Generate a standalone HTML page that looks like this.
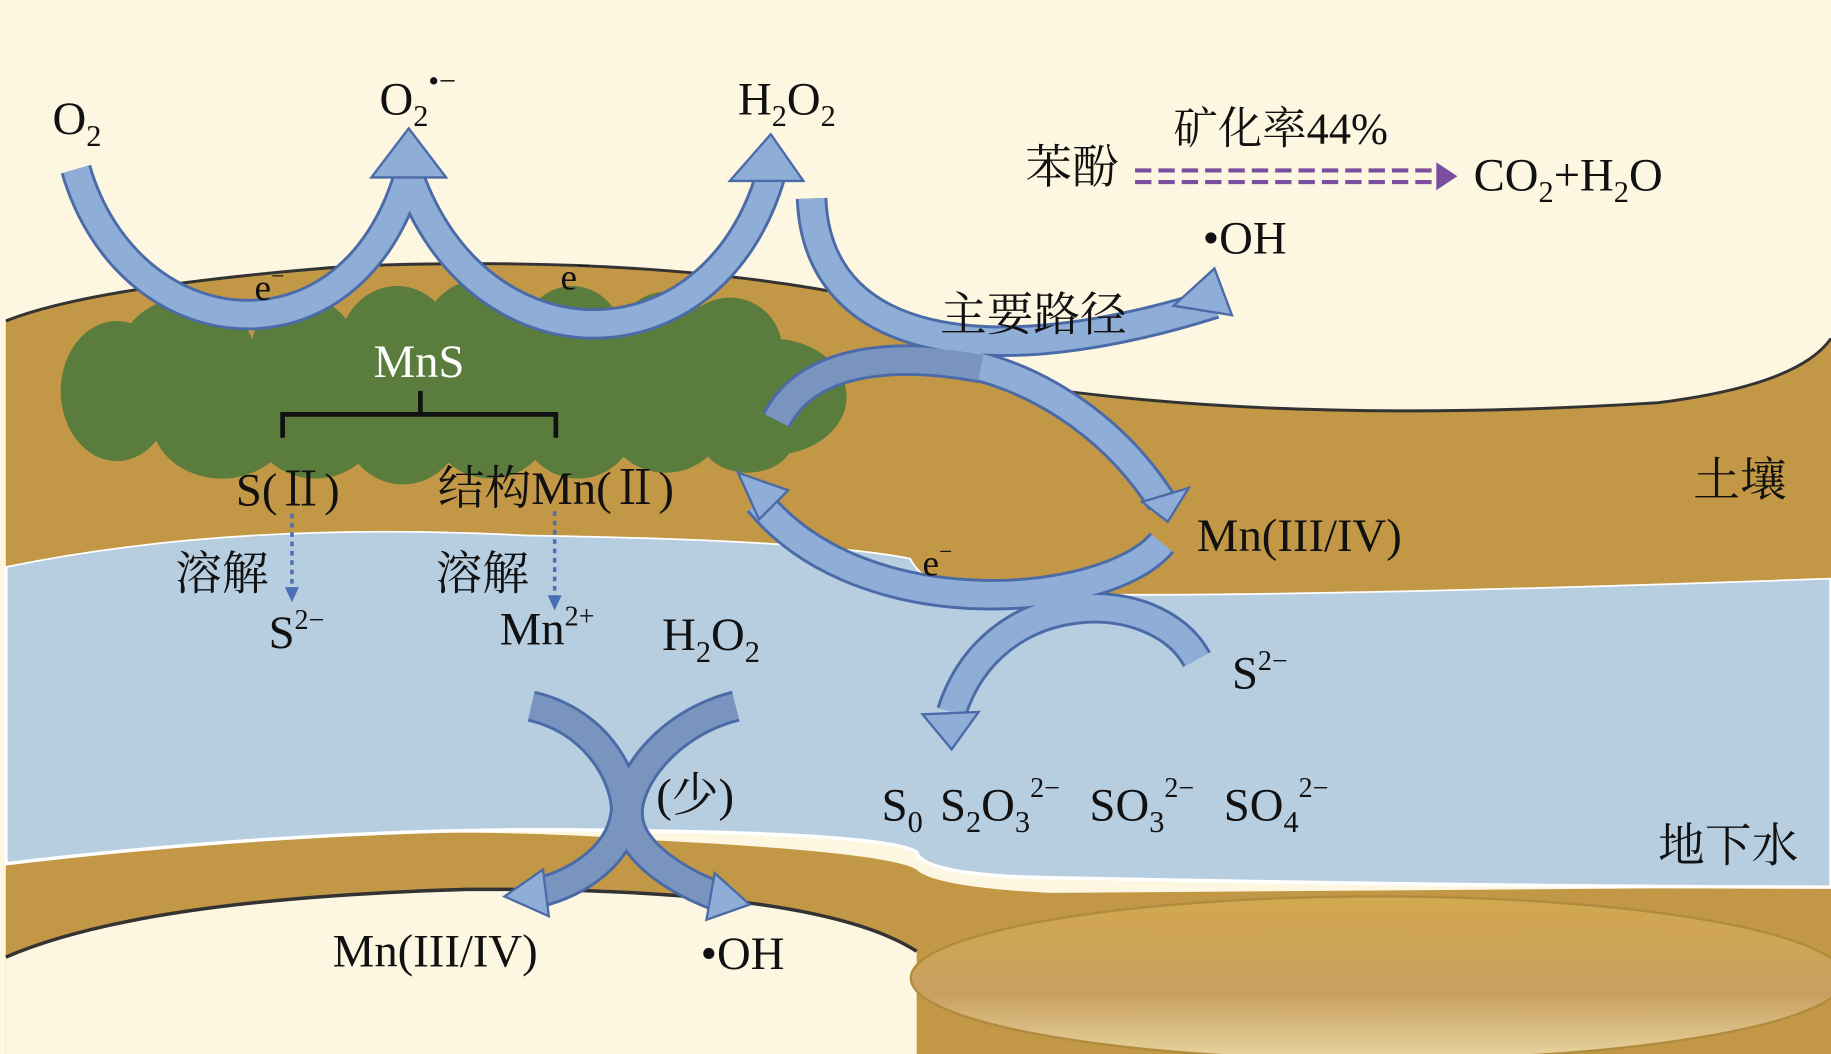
<!DOCTYPE html>
<html><head><meta charset="utf-8"><style>
html,body{margin:0;padding:0;background:#fdf6e0;}
svg{display:block}
text{font-family:"Liberation Serif","Noto Serif CJK SC",serif;fill:#111;}
</style></head><body>
<svg width="1831" height="1054" viewBox="0 0 1568 903" preserveAspectRatio="none" xmlns="http://www.w3.org/2000/svg">
<defs>
<linearGradient id="lb" x1="0" y1="0" x2="0" y2="1"><stop offset="0" stop-color="#d2a84f"/><stop offset="0.6" stop-color="#c9a060"/><stop offset="1" stop-color="#e8d6a0"/></linearGradient>
</defs>
<rect width="1568" height="903" fill="#fdf6e0"/>
<!-- lower brown layer -->
<path d="M5,740 Q300,700 560,720 Q760,730 785,745 Q800,760 900,765 L1568,760 L1568,903 L5,903 Z" fill="#c29745"/>
<!-- lower left cream ellipse -->
<path d="M5,820 Q120,770 400,762 Q700,760 785,815 L785,903 L5,903 Z" fill="#fdf6e0"/>
<path d="M5,820 Q120,770 400,762 Q700,760 785,815" fill="none" stroke="#333" stroke-width="3"/>
<!-- lower right ellipse -->
<ellipse cx="1180" cy="838" rx="400" ry="70" fill="url(#lb)" stroke="#b08b3e" stroke-width="2"/>
<!-- water -->
<path d="M5,485 Q200,445 450,458 Q700,462 780,478 Q790,500 830,506 Q1000,515 1568,495 L1568,760 Q1300,760 900,752 Q790,750 785,730 Q760,715 560,712 Q300,705 5,740 Z" fill="#b7cde0" stroke="#fff" stroke-width="3"/>
<!-- upper brown soil -->
<path d="M5,275 Q80,245 300,228 Q560,218 740,255 Q790,270 785,290 Q790,310 860,330 Q1100,360 1568,290 L1568,495 Q1000,515 830,506 Q790,500 780,478 Q700,462 450,458 Q200,445 5,485 Z" fill="#c29745"/>
<path d="M5,275 Q80,245 300,228 Q560,218 740,255 Q790,270 785,290" fill="none" stroke="#333" stroke-width="2.5"/>
<!-- top-right cream bowl -->
<path d="M785,290 Q790,310 860,330 Q1100,365 1420,345 Q1540,330 1568,290 L1568,0 L785,0Z" fill="#fdf6e0"/>
<path d="M785,290 Q800,310 860,328 Q1100,365 1420,345 Q1540,330 1568,290" fill="none" stroke="#333" stroke-width="2.5"/>
<!-- green MnS cluster -->
<g fill="#5a7d3e">
<ellipse cx="100" cy="335" rx="48" ry="60"/>
<ellipse cx="160" cy="310" rx="60" ry="55"/>
<ellipse cx="190" cy="360" rx="60" ry="50"/>
<ellipse cx="260" cy="300" rx="45" ry="45"/>
<ellipse cx="270" cy="360" rx="55" ry="50"/>
<ellipse cx="340" cy="300" rx="50" ry="55"/>
<ellipse cx="345" cy="365" rx="50" ry="50"/>
<ellipse cx="410" cy="295" rx="50" ry="55"/>
<ellipse cx="420" cy="365" rx="50" ry="45"/>
<ellipse cx="490" cy="295" rx="45" ry="50"/>
<ellipse cx="495" cy="360" rx="50" ry="50"/>
<ellipse cx="570" cy="300" rx="45" ry="50"/>
<ellipse cx="570" cy="360" rx="50" ry="45"/>
<ellipse cx="625" cy="300" rx="45" ry="45"/>
<ellipse cx="660" cy="340" rx="65" ry="50"/>
<ellipse cx="640" cy="375" rx="40" ry="30"/>
<rect x="90" y="300" width="580" height="70"/>
</g>
<!-- bracket -->
<path d="M242,375 V355 H476 V375 M360,355 V335" fill="none" stroke="#111" stroke-width="4"/>
<!-- arrows -->
<g fill="none" stroke-linecap="butt">
<g stroke="#4a6aa8" stroke-width="27">
<path d="M65,145 C110,300 300,320 350,150"/>
<path d="M350,150 C410,320 610,320 660,150"/>
<path d="M695,170 C700,300 850,320 1040,260"/>
<path d="M820,310 C880,320 950,360 995,430"/>
<path d="M840,315 C760,300 690,310 665,360"/>
<path d="M995,465 C950,520 740,540 650,430"/>
<path d="M1025,565 C990,500 850,500 815,610"/>
<path d="M455,605 C520,620 540,680 535,700 C530,730 500,755 460,765"/>
<path d="M630,605 C570,620 535,670 538,700 C540,730 580,755 615,768"/>
</g>
<g stroke="#8eaed8" stroke-width="22">
<path d="M65,145 C110,300 300,320 350,150"/>
<path d="M350,150 C410,320 610,320 660,150"/>
<path d="M695,170 C700,300 850,320 1040,260"/>
<path d="M820,310 C880,320 950,360 995,430"/>
<path d="M995,465 C950,520 740,540 650,430"/>
<path d="M1025,565 C990,500 850,500 815,610"/>
</g>
<g stroke="#7a94c0" stroke-width="22">
<path d="M840,315 C760,300 690,310 665,360"/>
<path d="M455,605 C520,620 540,680 535,700 C530,730 500,755 460,765"/>
<path d="M630,605 C570,620 535,670 538,700 C540,730 580,755 615,768"/>
</g>
</g>
<g fill="#8eaed8" stroke="#4a6aa8" stroke-width="2">
<polygon points="350,110 382,152 318,152"/>
<polygon points="660,115 688,155 625,155"/>
<polygon points="1055,270 1040,230 1005,262"/>
<polygon points="1000,447 1018,418 978,430"/>
<polygon points="632,405 675,420 650,445"/>
<polygon points="815,642 790,612 838,610"/>
<polygon points="432,768 465,745 470,785"/>
<polygon points="642,775 612,748 605,788"/>
</g>
<!-- dotted arrows -->
<g stroke="#4a6fb5" stroke-width="3" stroke-dasharray="4,4">
<line x1="250" y1="440" x2="250" y2="505"/>
<line x1="475" y1="438" x2="475" y2="512"/>
</g>
<polygon points="244,503 256,503 250,516" fill="#4a6fb5"/>
<polygon points="469,510 481,510 475,523" fill="#4a6fb5"/>
<!-- purple dashed double arrow -->
<g stroke="#7a4fa0" stroke-width="3.5" stroke-dasharray="14,6">
<line x1="972" y1="146" x2="1232" y2="146"/>
<line x1="972" y1="156" x2="1232" y2="156"/>
</g>
<polygon points="1230,139 1248,151 1230,163" fill="#7a4fa0"/>
<!-- text -->
<g font-size="40">
<text x="45" y="115">O<tspan font-size="26" dy="10">2</tspan></text>
<text x="325" y="98">O<tspan font-size="26" dy="10">2</tspan><tspan font-size="26" dy="-30">•−</tspan></text>
<text x="632" y="98">H<tspan font-size="26" dy="10">2</tspan><tspan dy="-10">O</tspan><tspan font-size="26" dy="10">2</tspan></text>
<text x="1005" y="123" font-size="38">矿化率44%</text>
<text x="878" y="157" font-size="40">苯酚</text>
<text x="1262" y="163">CO<tspan font-size="26" dy="10">2</tspan><tspan dy="-10">+H</tspan><tspan font-size="26" dy="10">2</tspan><tspan dy="-10">O</tspan></text>
<text x="1030" y="217">•OH</text>
<text x="218" y="257" font-size="32">e<tspan font-size="20" dy="-14">−</tspan></text>
<text x="480" y="248" font-size="32">e<tspan font-size="20" dy="-14">−</tspan></text>
<text x="805" y="283">主要路径</text>
<text x="320" y="323" style="fill:#fff">MnS</text>
<text x="202" y="433">S(Ⅱ)</text>
<text x="375" y="432">结构Mn(Ⅱ)</text>
<text x="1450" y="425">土壤</text>
<text x="1025" y="472">Mn(III/IV)</text>
<text x="150" y="505">溶解</text>
<text x="373" y="505">溶解</text>
<text x="790" y="493" font-size="32">e<tspan font-size="20" dy="-14">−</tspan></text>
<text x="230" y="555">S<tspan font-size="24" dy="-16">2−</tspan></text>
<text x="428" y="552">Mn<tspan font-size="24" dy="-16">2+</tspan></text>
<text x="567" y="557">H<tspan font-size="26" dy="10">2</tspan><tspan dy="-10">O</tspan><tspan font-size="26" dy="10">2</tspan></text>
<text x="1055" y="590">S<tspan font-size="24" dy="-16">2−</tspan></text>
<text x="562" y="695">(少)</text>
<text x="755" y="703">S<tspan font-size="26" dy="10">0</tspan></text>
<text x="805" y="703">S<tspan font-size="26" dy="10">2</tspan><tspan dy="-10">O</tspan><tspan font-size="26" dy="10">3</tspan><tspan font-size="24" dy="-30">2−</tspan></text>
<text x="933" y="703">SO<tspan font-size="26" dy="10">3</tspan><tspan font-size="24" dy="-30">2−</tspan></text>
<text x="1048" y="703">SO<tspan font-size="26" dy="10">4</tspan><tspan font-size="24" dy="-30">2−</tspan></text>
<text x="1420" y="738">地下水</text>
<text x="285" y="828">Mn(III/IV)</text>
<text x="600" y="830">•OH</text>
</g>
</svg>
</body></html>
